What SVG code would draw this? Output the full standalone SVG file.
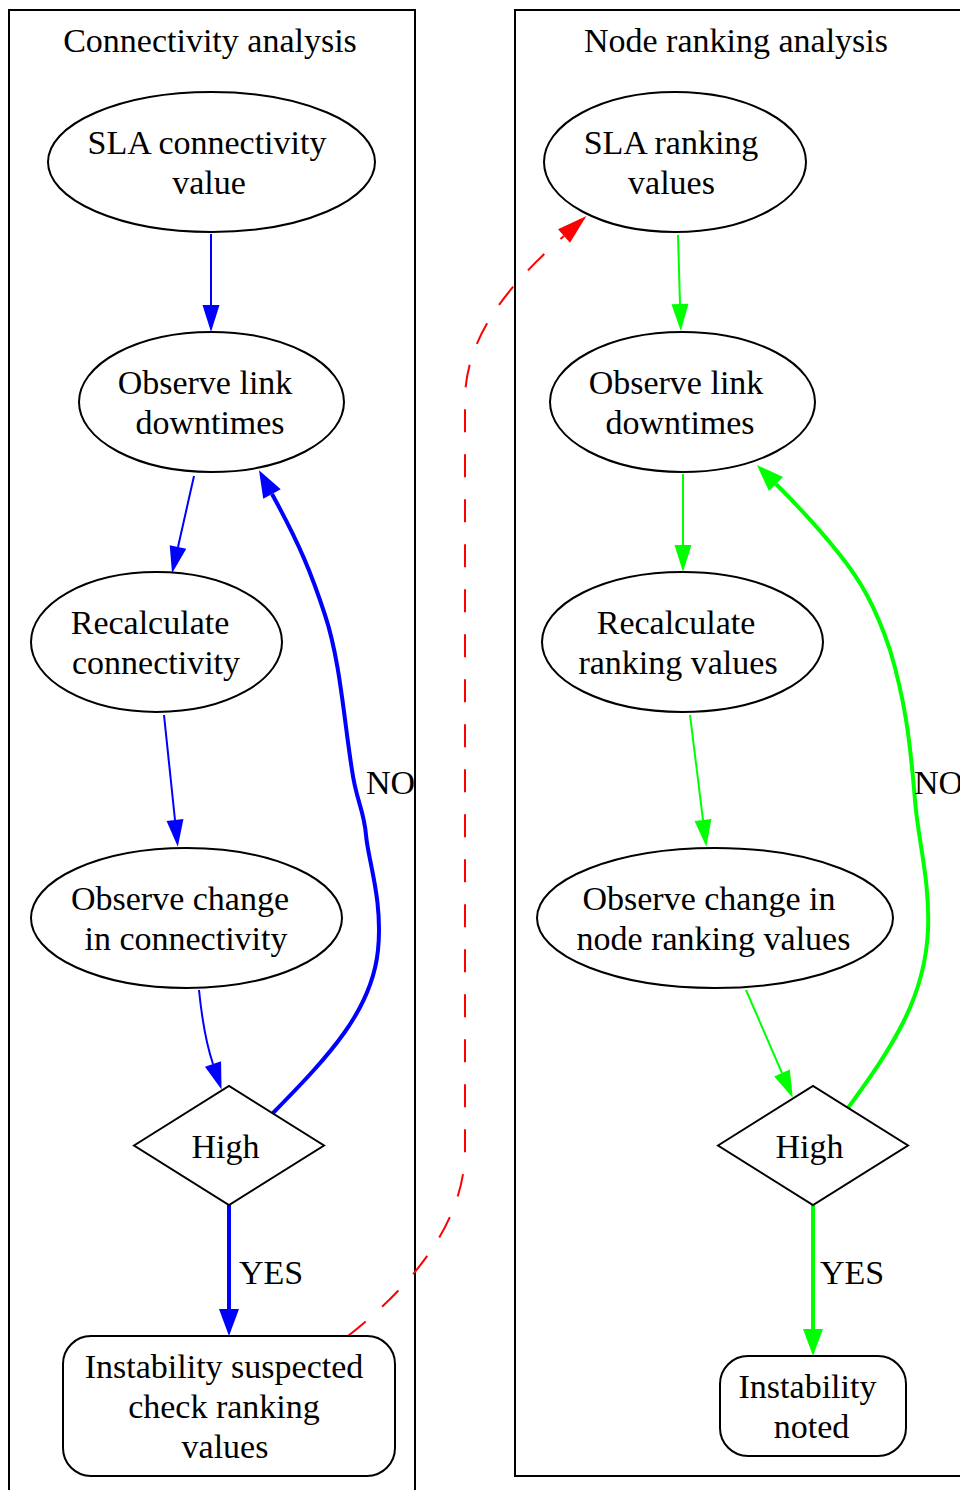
<svg xmlns="http://www.w3.org/2000/svg" width="960" height="1490" viewBox="0 0 960 1490">
  <style>
    text { font-family: "Liberation Serif", "Times New Roman", serif; font-size: 34px; fill: #000; text-anchor: middle; }
    text.lbl { text-anchor: start; }
    .cluster { fill: none; stroke: #000; stroke-width: 2; }
    .node { fill: #fff; stroke: #000; stroke-width: 2; }
    .e { fill: none; }
    .blue { stroke: #0000ff; }
    .green { stroke: #00ff00; }
    .thin { stroke-width: 2; }
    .thick { stroke-width: 4; }
    .red { stroke: #ff0000; stroke-width: 2; stroke-dasharray: 23 22; }
  </style>
  <defs>
    <marker id="ah-blue" markerUnits="userSpaceOnUse" markerWidth="28" markerHeight="18" refX="0" refY="8.5" orient="auto" overflow="visible">
      <path d="M0,0 L27,8.5 L0,17 Z" fill="#0000ff"/>
    </marker>
    <marker id="ah-blue-bold" markerUnits="userSpaceOnUse" markerWidth="28" markerHeight="22" refX="0" refY="10" orient="auto" overflow="visible">
      <path d="M0,0 L27,10 L0,20 Z" fill="#0000ff"/>
    </marker>
    <marker id="ah-green" markerUnits="userSpaceOnUse" markerWidth="28" markerHeight="18" refX="0" refY="8.5" orient="auto" overflow="visible">
      <path d="M0,0 L27,8.5 L0,17 Z" fill="#00ff00"/>
    </marker>
    <marker id="ah-green-bold" markerUnits="userSpaceOnUse" markerWidth="28" markerHeight="22" refX="0" refY="10" orient="auto" overflow="visible">
      <path d="M0,0 L27,10 L0,20 Z" fill="#00ff00"/>
    </marker>
    <marker id="ah-red" markerUnits="userSpaceOnUse" markerWidth="32" markerHeight="20" refX="0" refY="9" orient="auto" overflow="visible">
      <path d="M0,0 L30,9 L0,18 Z" fill="#ff0000"/>
    </marker>
  </defs>

  <!-- clusters -->
  <g id="cluster-connectivity">
    <rect class="cluster" x="9" y="10" width="406" height="1500"/>
    <text x="210" y="52">Connectivity analysis</text>
  </g>
  <g id="cluster-ranking">
    <rect class="cluster" x="515" y="10" width="460" height="1466"/>
    <text x="736" y="52">Node ranking analysis</text>
  </g>

  <!-- connectors -->
  <g id="edges">
    <!-- connectivity flow -->
    <path class="e blue thin" d="M211,234 L211,305" marker-end="url(#ah-blue)"/>
    <path class="e blue thin" d="M194,476 L178,547" marker-end="url(#ah-blue)"/>
    <path class="e blue thin" d="M164,715 L175,820" marker-end="url(#ah-blue)"/>
    <path class="e blue thin" d="M199,990 C201,1010 205,1040 213,1064" marker-end="url(#ah-blue)"/>
    <path class="e blue thick" d="M229,1205 L229,1309" marker-end="url(#ah-blue-bold)"/>
    <path class="e blue thick" d="M273,1113 C330,1055 372,1010 378,950 C383,900 368,860 366,835 C364,810 356,800 352,770 C344,720 340,660 325,615 C312,575 300,545 272,494" marker-end="url(#ah-blue-bold)"/>
    <text class="lbl" x="239" y="1284">YES</text>
    <text class="lbl" x="366" y="794">NO</text>

    <!-- ranking flow -->
    <path class="e green thin" d="M678,235 L680,304" marker-end="url(#ah-green)"/>
    <path class="e green thin" d="M683,474 L683,545" marker-end="url(#ah-green)"/>
    <path class="e green thin" d="M690,715 L703,820" marker-end="url(#ah-green)"/>
    <path class="e green thin" d="M746,990 L782,1073" marker-end="url(#ah-green)"/>
    <path class="e green thick" d="M813,1205 L813,1329" marker-end="url(#ah-green-bold)"/>
    <path class="e green thick" d="M848,1108 C890,1050 925,1000 928,930 C930,880 918,840 915,800 C910,740 905,700 890,650 C875,605 860,580 840,555 C822,532 800,508 776,484" marker-end="url(#ah-green-bold)"/>
    <text class="lbl" x="820" y="1284">YES</text>
    <text class="lbl" x="914" y="794">NO</text>

    <!-- cross-check link -->
    <path class="e red" d="M348,1336 C400,1295 465,1230 465,1150 L465,400 C465,330 520,275 564,236" marker-end="url(#ah-red)"/>
  </g>

  <!-- connectivity nodes -->
  <g id="sla-connectivity">
    <ellipse class="node" cx="211.5" cy="162" rx="163.5" ry="70"/>
    <text x="207" y="154">SLA connectivity</text>
    <text x="209" y="194">value</text>
  </g>
  <g id="observe-downtimes-c">
    <ellipse class="node" cx="211.5" cy="402" rx="132.5" ry="70"/>
    <text x="205" y="394">Observe link</text>
    <text x="210" y="434">downtimes</text>
  </g>
  <g id="recalc-connectivity">
    <ellipse class="node" cx="156.5" cy="642" rx="125.5" ry="70"/>
    <text x="150" y="634">Recalculate</text>
    <text x="156" y="674">connectivity</text>
  </g>
  <g id="observe-change-c">
    <ellipse class="node" cx="186.5" cy="918" rx="155.5" ry="70"/>
    <text x="180" y="910">Observe change</text>
    <text x="186" y="950">in connectivity</text>
  </g>
  <g id="high-c">
    <polygon class="node" points="134,1145.5 229,1086 324,1145.5 229,1205"/>
    <text x="225.5" y="1158">High</text>
  </g>
  <g id="instability-suspected">
    <rect class="node" x="63" y="1336" width="332" height="140" rx="28" ry="28"/>
    <text x="224" y="1378">Instability suspected</text>
    <text x="224" y="1418">check ranking</text>
    <text x="225" y="1458">values</text>
  </g>

  <!-- ranking nodes -->
  <g id="sla-ranking">
    <ellipse class="node" cx="675" cy="162" rx="131" ry="70"/>
    <text x="671" y="154">SLA ranking</text>
    <text x="671.5" y="194">values</text>
  </g>
  <g id="observe-downtimes-r">
    <ellipse class="node" cx="682.5" cy="402" rx="132.5" ry="70"/>
    <text x="676" y="394">Observe link</text>
    <text x="680" y="434">downtimes</text>
  </g>
  <g id="recalc-ranking">
    <ellipse class="node" cx="682.5" cy="642" rx="140.5" ry="70"/>
    <text x="676" y="634">Recalculate</text>
    <text x="678" y="674">ranking values</text>
  </g>
  <g id="observe-change-r">
    <ellipse class="node" cx="715" cy="918" rx="178" ry="70"/>
    <text x="709" y="910">Observe change in</text>
    <text x="713.5" y="950">node ranking values</text>
  </g>
  <g id="high-r">
    <polygon class="node" points="718,1145.5 813,1086 908,1145.5 813,1205"/>
    <text x="809.5" y="1158">High</text>
  </g>
  <g id="instability-noted">
    <rect class="node" x="720" y="1356" width="186" height="100" rx="28" ry="28"/>
    <text x="807.5" y="1398">Instability</text>
    <text x="811.5" y="1438">noted</text>
  </g>
</svg>
